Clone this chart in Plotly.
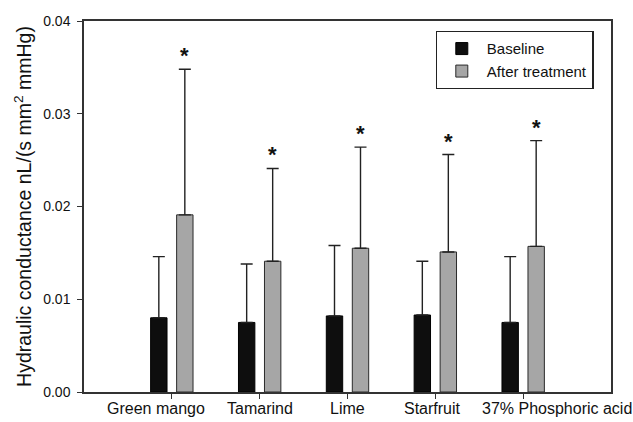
import plotly.graph_objects as go

# ---- data ----
categories = ["Green mango", "Tamarind", "Lime", "Starfruit", "37% Phosphoric acid"]
baseline_mean = [0.0080, 0.0075, 0.0082, 0.0083, 0.0075]
baseline_sd = [0.0066, 0.0063, 0.0076, 0.0058, 0.0071]
after_mean = [0.0191, 0.0141, 0.0155, 0.0151, 0.0157]
after_sd = [0.0157, 0.0100, 0.0109, 0.0105, 0.0114]
significant = [True, True, True, True, True]
y_ticks = [0.00, 0.01, 0.02, 0.03, 0.04]
label_shift = [-16, 0, 0, -3, 34]  # horizontal nudge of category labels (px)

FONT = "Liberation Sans, Arial, Helvetica, sans-serif"

fig = go.Figure()
fig.add_trace(go.Bar(
    name="Baseline", x=categories, y=baseline_mean,
    marker=dict(color="#0e0e0e", line=dict(color="#000000", width=1)),
    error_y=dict(type="data", symmetric=False, array=baseline_sd,
                 arrayminus=[0] * len(baseline_sd),
                 color="#222222", thickness=1.4, width=6),
))
fig.add_trace(go.Bar(
    name="After treatment", x=categories, y=after_mean,
    marker=dict(color="#a6a6a6", line=dict(color="#2a2a2a", width=1)),
    error_y=dict(type="data", symmetric=False, array=after_sd,
                 arrayminus=[0] * len(after_sd),
                 color="#222222", thickness=1.4, width=6),
))

annotations = []
for c, m, s, sig in zip(categories, after_mean, after_sd, significant):
    if sig:
        annotations.append(dict(
            x=c, y=m + s, xref="x", yref="y", text="<b>*</b>",
            showarrow=False, yanchor="bottom", xanchor="center",
            xshift=13, yshift=-1,
            font=dict(family=FONT, size=22, color="#111111"),
        ))
for c, dx in zip(categories, label_shift):
    annotations.append(dict(
        x=c, y=0, xref="x", yref="paper", text=c, showarrow=False,
        yanchor="top", xanchor="center", xshift=dx, yshift=-6,
        font=dict(family=FONT, size=16, color="#111111"),
    ))

fig.update_layout(
    width=633, height=422,
    margin=dict(l=84, r=22, t=21, b=30),
    paper_bgcolor="white", plot_bgcolor="white",
    barmode="group", bargap=0.408, bargroupgap=0.37,
    font=dict(family=FONT, size=14, color="#111111"),
    showlegend=True,
    legend=dict(
        x=0.667, y=0.973, xanchor="left", yanchor="top",
        bgcolor="white", bordercolor="#222222", borderwidth=1.3,
        font=dict(family=FONT, size=15, color="#111111"),
        itemwidth=40, tracegroupgap=0,
    ),
    annotations=annotations,
)
fig.update_xaxes(
    type="category", range=[-1, 5],
    showline=True, linecolor="#333333", linewidth=1.5, mirror=True,
    ticks="outside", ticklen=5, tickcolor="#333333", tickwidth=1.3,
    showticklabels=False, showgrid=False, zeroline=False,
)
fig.update_yaxes(
    range=[0, 0.04], tickvals=y_ticks, tickformat=".2f",
    showline=True, linecolor="#333333", linewidth=1.5, mirror=True,
    ticks="outside", ticklen=5, tickcolor="#333333", tickwidth=1.3,
    tickfont=dict(family=FONT, size=14, color="#111111"),
    ticklabelstandoff=4,
    showgrid=False, zeroline=False,
    title=dict(text="Hydraulic conductance nL/(s mm<sup>2</sup> mmHg)",
               font=dict(family=FONT, size=19.5, color="#111111"), standoff=6),
)

fig.write_html(
    "out.html",
    config={"displayModeBar": False},
    post_script="document.body.style.margin='0';document.body.style.overflow='hidden';",
)
